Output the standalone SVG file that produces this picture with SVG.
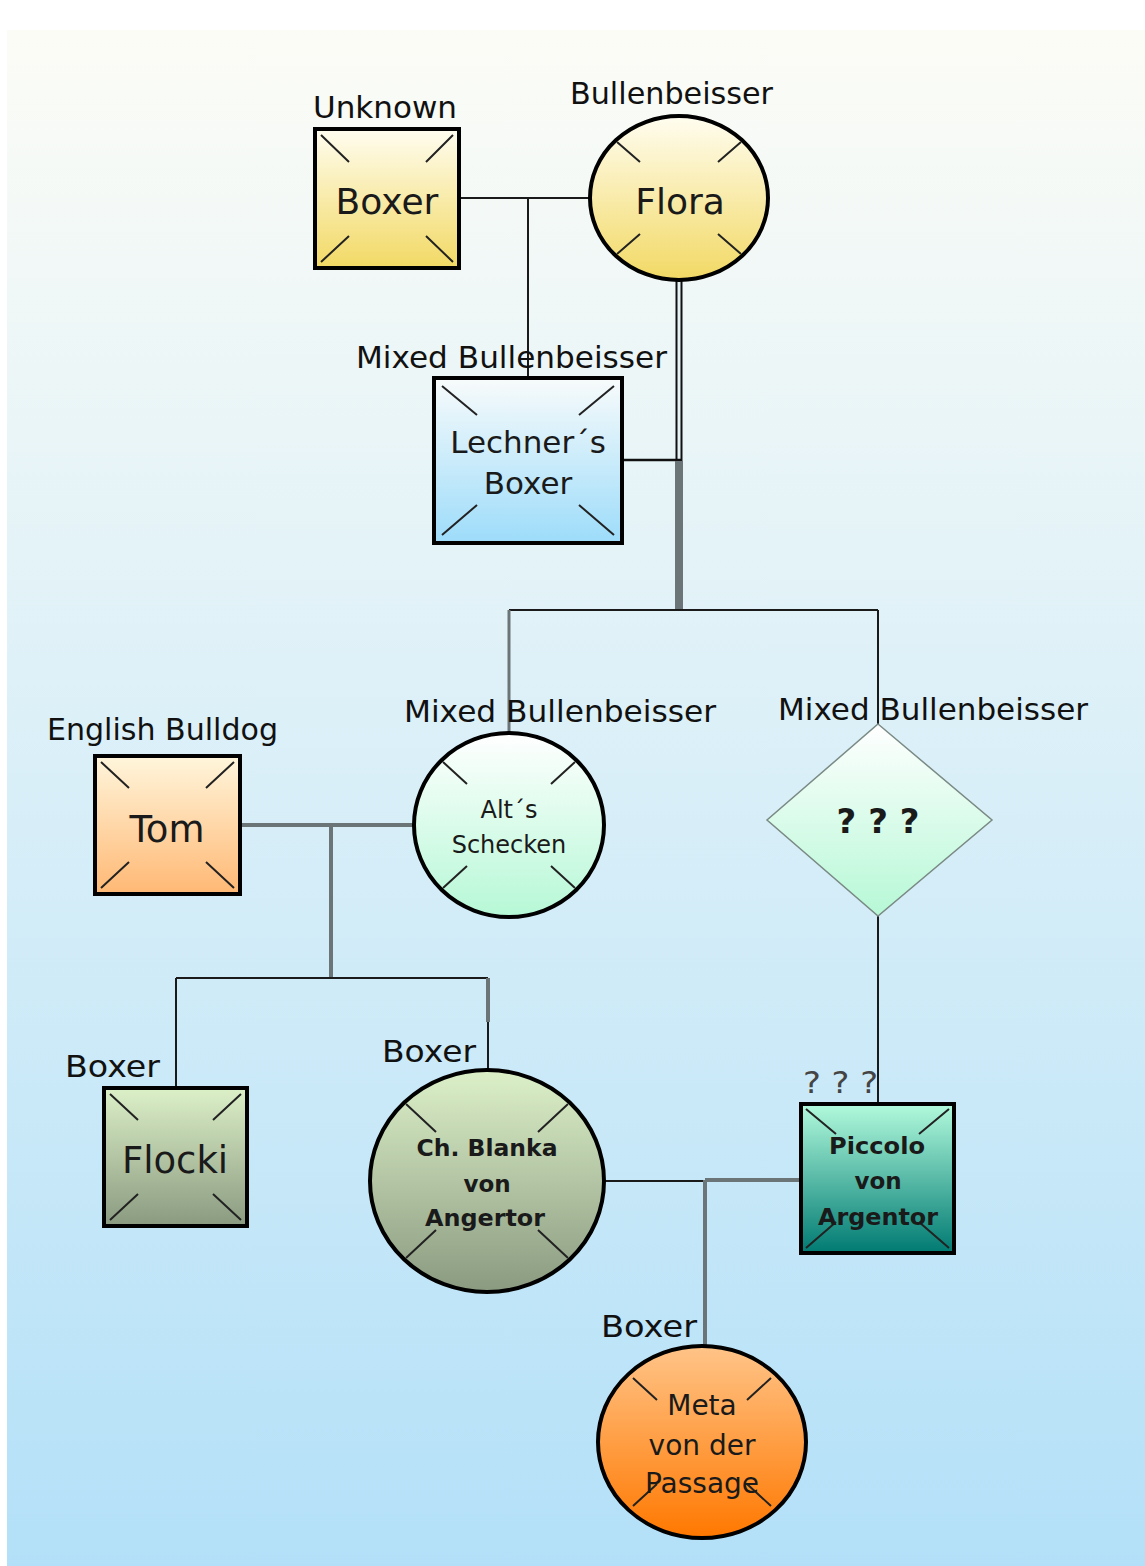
<svg xmlns="http://www.w3.org/2000/svg" width="1145" height="1566" viewBox="0 0 1145 1566">
<defs>
<linearGradient id="bg" x1="0" y1="0" x2="0" y2="1"><stop offset="0" stop-color="#fcfcf6"/><stop offset="0.45" stop-color="#dcf0f8"/><stop offset="1" stop-color="#b3e0f8"/></linearGradient>
<linearGradient id="gYellow" x1="0" y1="0" x2="0" y2="1"><stop offset="0" stop-color="#fffdf0"/><stop offset="1" stop-color="#f2d964"/></linearGradient>
<linearGradient id="gBlue" x1="0" y1="0" x2="0" y2="1"><stop offset="0" stop-color="#f8fbfb"/><stop offset="1" stop-color="#9ddcfa"/></linearGradient>
<linearGradient id="gMint" x1="0" y1="0" x2="0" y2="1"><stop offset="0" stop-color="#ffffff"/><stop offset="1" stop-color="#b6f8d6"/></linearGradient>
<linearGradient id="gOrange" x1="0" y1="0" x2="0" y2="1"><stop offset="0" stop-color="#fff6dc"/><stop offset="1" stop-color="#ffb874"/></linearGradient>
<linearGradient id="gSage" x1="0" y1="0" x2="0" y2="1"><stop offset="0" stop-color="#dcf0c8"/><stop offset="1" stop-color="#8a9a80"/></linearGradient>
<linearGradient id="gTeal" x1="0" y1="0" x2="0" y2="1"><stop offset="0" stop-color="#b2fadc"/><stop offset="1" stop-color="#007a72"/></linearGradient>
<linearGradient id="gMeta" x1="0" y1="0" x2="0" y2="1"><stop offset="0" stop-color="#ffc488"/><stop offset="1" stop-color="#ff7800"/></linearGradient>
</defs>
<style>
.node{stroke:#000;stroke-width:4}
.cross{stroke:#222;stroke-width:2;fill:none}
.thin{stroke:#1a1a1a;stroke-width:2;fill:none}
.grey{stroke:#6b7577;stroke-width:4;fill:none}
.lbl{font-family:"DejaVu Sans",sans-serif;font-size:31px;fill:#111}
.txt{font-family:"DejaVu Sans",sans-serif;fill:#1a1a1a;text-anchor:middle}
</style>
<rect x="0" y="0" width="1145" height="1566" fill="#ffffff"/>
<rect x="7" y="30" width="1138" height="1536" fill="url(#bg)"/>

<g id="connectors">
<path class="thin" d="M459,198 H590"/>
<path class="thin" d="M528,198 V378"/>
<path d="M679,280 V462" stroke="#111" stroke-width="7" fill="none"/>
<path d="M679,280 V459" stroke="#e6f2f4" stroke-width="3" fill="none"/>
<path d="M622,460 H682" stroke="#111" stroke-width="2.5" fill="none"/>
<path d="M679,461 V610" stroke="#6b7577" stroke-width="8" fill="none"/>
<path class="thin" d="M509,610 H878"/>
<path d="M509,610 V733" stroke="#6b7577" stroke-width="3" fill="none"/>
<path class="thin" d="M878,610 V724"/>
<path class="grey" d="M240,825 H413"/>
<path class="grey" d="M331,825 V978"/>
<path class="thin" d="M176,978 H488"/>
<path class="thin" d="M176,978 V1087"/>
<path class="grey" d="M488,978 V1022"/>
<path class="thin" d="M488,1022 V1070"/>
<path class="thin" d="M878,916 V1104"/>
<path class="thin" d="M604,1181 H705"/>
<path class="grey" d="M705,1180 H801"/>
<path class="grey" d="M705,1180 V1346"/>
</g>

<g id="node-boxer-unknown">
<rect class="node" x="315" y="129" width="144" height="139" fill="url(#gYellow)"/>
<path class="cross" d="M321,135 L349,162 M453,135 L426,162 M321,262 L349,236 M453,262 L426,236"/>
<text class="txt" x="387" y="214" font-size="36">Boxer</text>
<text class="lbl" x="313" y="118" textLength="144" lengthAdjust="spacingAndGlyphs">Unknown</text>
</g>

<g id="node-flora">
<ellipse class="node" cx="679" cy="198" rx="89" ry="82" fill="url(#gYellow)"/>
<path class="cross" d="M617,142 L640,162 M741,142 L718,162 M617,254 L640,234 M741,254 L718,234"/>
<text class="txt" x="680" y="214" font-size="36">Flora</text>
<text class="lbl" x="570" y="104" textLength="203" lengthAdjust="spacingAndGlyphs">Bullenbeisser</text>
</g>

<g id="node-lechner">
<rect class="node" x="434" y="378" width="188" height="165" fill="url(#gBlue)"/>
<path class="cross" d="M442,386 L477,415 M614,386 L579,415 M442,535 L477,505 M614,535 L579,505"/>
<text class="txt" x="528" y="453" font-size="31">Lechner´s</text>
<text class="txt" x="528" y="494" font-size="31">Boxer</text>
<text class="lbl" x="356" y="368" textLength="311" lengthAdjust="spacingAndGlyphs">Mixed Bullenbeisser</text>
</g>

<g id="node-alts">
<ellipse class="node" cx="509" cy="825" rx="95" ry="92" fill="url(#gMint)"/>
<path class="cross" d="M443,762 L467,784 M575,762 L551,784 M443,888 L467,866 M575,888 L551,866"/>
<text class="txt" x="509" y="818" font-size="24">Alt´s</text>
<text class="txt" x="509" y="853" font-size="24">Schecken</text>
<text class="lbl" x="404" y="722" textLength="312" lengthAdjust="spacingAndGlyphs">Mixed Bullenbeisser</text>
</g>

<g id="node-unknown-diamond">
<polygon points="878,724 992,820 878,916 767,820" fill="url(#gMint)" stroke="#7a8a84" stroke-width="1.5"/>
<text class="txt" x="878" y="833" font-size="34" font-weight="bold">? ? ?</text>
<text class="lbl" x="778" y="720" textLength="310" lengthAdjust="spacingAndGlyphs">Mixed Bullenbeisser</text>
</g>

<g id="node-tom">
<rect class="node" x="95" y="756" width="145" height="138" fill="url(#gOrange)"/>
<path class="cross" d="M101,762 L129,788 M234,762 L206,788 M101,888 L129,862 M234,888 L206,862"/>
<text class="txt" x="167" y="842" font-size="37">Tom</text>
<text class="lbl" x="47" y="740" textLength="231" lengthAdjust="spacingAndGlyphs">English Bulldog</text>
</g>

<g id="node-flocki">
<rect class="node" x="104" y="1088" width="143" height="138" fill="url(#gSage)"/>
<path class="cross" d="M110,1094 L138,1120 M241,1094 L213,1120 M110,1220 L138,1194 M241,1220 L213,1194"/>
<text class="txt" x="175" y="1173" font-size="37">Flocki</text>
<text class="lbl" x="65" y="1077" textLength="95" lengthAdjust="spacingAndGlyphs">Boxer</text>
</g>

<g id="node-blanka">
<ellipse class="node" cx="487" cy="1181" rx="117" ry="111" fill="url(#gSage)"/>
<path class="cross" d="M406,1104 L436,1132 M568,1104 L538,1132 M406,1258 L436,1230 M568,1258 L538,1230"/>
<text class="txt" x="487" y="1156" font-size="23" font-weight="bold" textLength="141" lengthAdjust="spacingAndGlyphs">Ch. Blanka</text>
<text class="txt" x="487" y="1192" font-size="23" font-weight="bold">von</text>
<text class="txt" x="485" y="1226" font-size="23" font-weight="bold" textLength="120" lengthAdjust="spacingAndGlyphs">Angertor</text>
<text class="lbl" x="382" y="1062" textLength="94" lengthAdjust="spacingAndGlyphs">Boxer</text>
</g>

<g id="node-piccolo">
<rect class="node" x="801" y="1104" width="153" height="149" fill="url(#gTeal)"/>
<path class="cross" d="M806,1109 L836,1134 M949,1109 L919,1134 M806,1248 L836,1222 M949,1248 L919,1222"/>
<text class="txt" x="877" y="1154" font-size="23" font-weight="bold" textLength="96" lengthAdjust="spacingAndGlyphs">Piccolo</text>
<text class="txt" x="878" y="1189" font-size="23" font-weight="bold">von</text>
<text class="txt" x="878" y="1225" font-size="23" font-weight="bold" textLength="120" lengthAdjust="spacingAndGlyphs">Argentor</text>
<text class="lbl" x="803" y="1093" style="fill:#444" textLength="75" lengthAdjust="spacingAndGlyphs">? ? ?</text>
</g>

<g id="node-meta">
<ellipse class="node" cx="702" cy="1442" rx="104" ry="96" fill="url(#gMeta)"/>
<path class="cross" d="M633,1378 L657,1400 M771,1378 L747,1400 M633,1506 L657,1484 M771,1506 L747,1484"/>
<text class="txt" x="702" y="1415" font-size="28">Meta</text>
<text class="txt" x="702" y="1455" font-size="28">von der</text>
<text class="txt" x="702" y="1493" font-size="28">Passage</text>
<text class="lbl" x="601" y="1337" textLength="96" lengthAdjust="spacingAndGlyphs">Boxer</text>
</g>
</svg>
